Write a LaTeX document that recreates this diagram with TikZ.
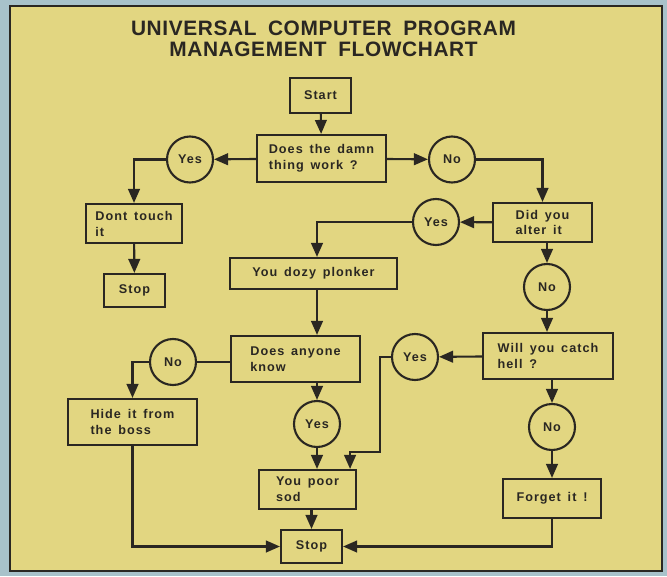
\documentclass[tikz,border=0pt]{standalone}
\usepackage{fontspec}
\setmainfont{Liberation Sans}
\newfontfamily\chartfont[LetterSpace=8, WordSpace=1.5]{Liberation Sans}
\newfontfamily\titlefont[LetterSpace=3, WordSpace=1.8]{Liberation Sans}
\usepackage{tikz}
\usetikzlibrary{arrows.meta, positioning, calc}
\usepackage{xcolor}
\definecolor{panelyellow}{HTML}{E2D681}
\definecolor{boardblue}{HTML}{A8C2CA}
\definecolor{inkgrey}{HTML}{2A2722}
\tikzset{
  flowbox/.style={
    rectangle, draw=inkgrey, line width=1.8pt, inner sep=0pt,
    align=left, text=inkgrey,
    font=\chartfont\bfseries\fontsize{10.8}{13.6}\selectfont
  },
  answer/.style={
    circle, draw=inkgrey, line width=1.8pt, inner sep=0pt,
    minimum size=1.38cm, text=inkgrey,
    font=\chartfont\bfseries\fontsize{10.8}{13.6}\selectfont
  },
  arrow/.style={-{Triangle[length=4.2mm, width=3.5mm]}, line width=1.8pt, draw=inkgrey},
  link/.style={line width=1.8pt, draw=inkgrey},
  heading/.style={
    align=center, inner sep=0pt, text=inkgrey,
    font=\titlefont\bfseries\fontsize{17.8}{17.9}\selectfont
  }
}

\begin{document}
\begin{tikzpicture}[x=0.03cm, y=-0.03cm]
  % board and panel
  \fill[boardblue] (0,0) rectangle (667,576);
  \useasboundingbox (0,0) rectangle (667,576);
  \draw[fill=panelyellow, draw=inkgrey, line width=2.4pt] (10,6) rectangle (662,571);

  \node[heading] (title) at (323.5,39)
    {UNIVERSAL COMPUTER PROGRAM\\MANAGEMENT FLOWCHART};

  % boxes
  \node[flowbox, minimum width=1.83cm, minimum height=1.05cm] (start) at (320.5,95.5) {Start};
  \node[flowbox, minimum width=3.87cm, minimum height=1.41cm] (work) at (321.5,158.5)
    {Does the damn\\thing work ?};
  \node[flowbox, minimum width=2.88cm, minimum height=1.17cm] (touch) at (134,223.5)
    {Dont touch\\it};
  \node[flowbox, minimum width=1.83cm, minimum height=0.99cm] (stopA) at (134.5,290.5) {Stop};
  \node[flowbox, minimum width=2.97cm, minimum height=1.17cm] (alter) at (542.5,222.5)
    {Did you\\alter it};
  \node[flowbox, minimum width=5.01cm, minimum height=0.93cm] (plonker) at (313.5,273.5)
    {You dozy plonker};
  \node[flowbox, minimum width=3.87cm, minimum height=1.38cm] (anyone) at (295.5,359)
    {Does anyone\\know};
  \node[flowbox, minimum width=3.87cm, minimum height=1.38cm] (hide) at (132.5,422)
    {Hide it from\\the boss};
  \node[flowbox, minimum width=3.9cm, minimum height=1.38cm] (hell) at (548,356)
    {Will you catch\\hell ?};
  \node[flowbox, minimum width=2.91cm, minimum height=1.17cm] (sod) at (307.5,489.5)
    {You poor\\sod};
  \node[flowbox, minimum width=2.94cm, minimum height=1.17cm] (forget) at (552,498.5)
    {Forget it !};
  \node[flowbox, minimum width=1.83cm, minimum height=0.99cm] (stopB) at (311.5,546.5) {Stop};

  % answers
  \node[answer] (yesA) at (190,159.5) {Yes};
  \node[answer] (noA) at (452,159.5) {No};
  \node[answer] (yesB) at (436,222) {Yes};
  \node[answer] (noC) at (547,287) {No};
  \node[answer] (noB) at (173,362) {No};
  \node[answer] (yesC) at (317,424) {Yes};
  \node[answer] (yesD) at (415,357) {Yes};
  \node[answer] (noD) at (552,427) {No};

  \coordinate (bend) at (380,452);

  % connectors
  \foreach \a/\b in {start/work, work/yesA, work/noA, touch/stopA,
                     alter/yesB, hell/yesD, noD/forget}{%
    \draw[arrow] (\a) -- (\b);}
  \draw[arrow] (yesA) -| (touch);
  \draw[arrow] (noA) -| (alter);
  \draw[arrow] (yesB) -| (plonker.north -| yesC);
  \draw[arrow] (plonker.south -| yesC) -- (anyone.north -| yesC);
  \draw[link] (anyone.west |- noB) -- (noB);
  \draw[arrow] (noB) -| (hide);
  \draw[arrow] (anyone.south -| yesC) -- (yesC);
  \draw[arrow] (yesC) -- (sod.north -| yesC);
  \draw[arrow] (alter.south -| noC) -- (noC);
  \draw[arrow] (noC) -- (hell.north -| noC);
  \draw[arrow] (hell.south -| noD) -- (noD);
  \draw[arrow] (yesD) -| (bend) -| ([xshift=-0.21cm]sod.north east);
  \draw[arrow] (forget) |- (stopB);
  \draw[arrow] (hide) |- (stopB);
  \draw[arrow] (sod.south -| stopB) -- (stopB);
\end{tikzpicture}
\end{document}
